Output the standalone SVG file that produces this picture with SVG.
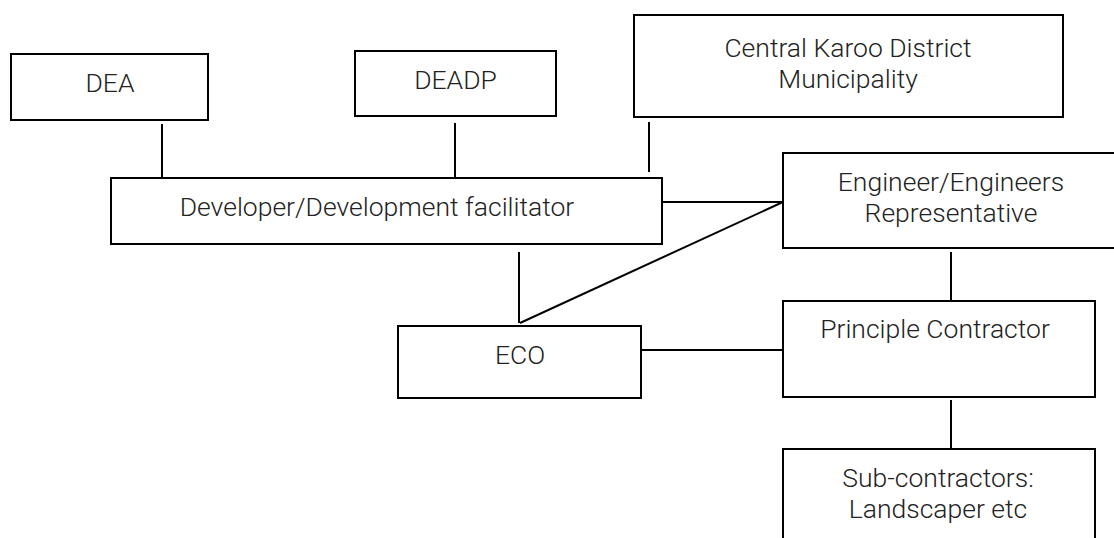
<svg xmlns="http://www.w3.org/2000/svg" width="1114" height="538" viewBox="0 0 1114 538">
<style>
.box{fill:#fff;stroke:#000;stroke-width:2}
.ln{stroke:#000;stroke-width:2;fill:none}
text{font-family:Roboto,"Liberation Sans",sans-serif;font-weight:300;font-size:26.5px;fill:#222;text-anchor:middle}
</style>
<rect width="1114" height="538" fill="#fff"/>
<g id="connectors">
<line class="ln" x1="162" y1="124" x2="162" y2="177"/>
<line class="ln" x1="455" y1="123" x2="455" y2="177"/>
<line class="ln" x1="649" y1="122" x2="649" y2="172"/>
<line class="ln" x1="662" y1="202" x2="783" y2="202"/>
<line class="ln" x1="519" y1="252" x2="519" y2="323"/>
<line class="ln" x1="520" y1="323" x2="783" y2="202"/>
<line class="ln" x1="639" y1="350" x2="783" y2="350"/>
<line class="ln" x1="951" y1="252" x2="951" y2="301"/>
<line class="ln" x1="951" y1="400" x2="951" y2="449"/>
</g>
<g id="dea"><rect class="box" x="11" y="54" width="197" height="66"/><text x="110" y="92">DEA</text></g>
<g id="deadp"><rect class="box" x="355" y="51" width="201" height="65"/><text x="455.5" y="89">DEADP</text></g>
<g id="ckdm"><rect class="box" x="634" y="15" width="429" height="102"/><text x="848" y="57">Central Karoo District</text><text x="848" y="88">Municipality</text></g>
<g id="developer"><rect class="box" x="111" y="178" width="551" height="66"/><text x="377" y="216">Developer/Development facilitator</text></g>
<g id="engineer"><rect class="box" x="783" y="153" width="340" height="95"/><text x="951" y="191">Engineer/Engineers</text><text x="951" y="222">Representative</text></g>
<g id="eco"><rect class="box" x="398" y="326" width="243" height="72"/><text x="520" y="364">ECO</text></g>
<g id="principle"><rect class="box" x="783" y="301" width="312" height="96"/><text x="935" y="338">Principle Contractor</text></g>
<g id="subcontractors"><rect class="box" x="783" y="449" width="312" height="100"/><text x="938" y="487">Sub-contractors:</text><text x="938" y="518">Landscaper etc</text></g>
</svg>
